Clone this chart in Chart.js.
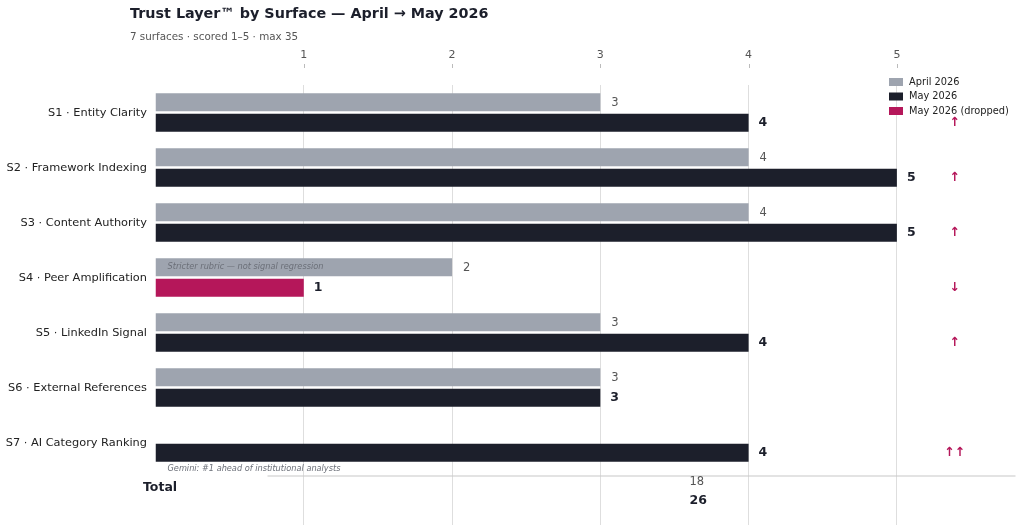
<!DOCTYPE html>
<html>
<head>
<meta charset="utf-8">
<script src="https://cdn.jsdelivr.net/npm/chart.js@4.4.1/dist/chart.umd.min.js"></script>
<style>
  html, body { margin: 0; padding: 0; background: #fff; }
  #wrap { width: 1024px; height: 529px; position: relative; }
</style>
</head>
<body>
<div id="wrap"><canvas id="trustChart"></canvas></div>
<script>
// ---- data ----
const surfaces = [
  "S1 · Entity Clarity",
  "S2 · Framework Indexing",
  "S3 · Content Authority",
  "S4 · Peer Amplification",
  "S5 · LinkedIn Signal",
  "S6 · External References",
  "S7 · AI Category Ranking"
];
const rowLabels = [...surfaces, "Total"];
const aprilScores = [3, 4, 4, 2, 3, 3, null, null];
const mayScores = [4, 5, 5, 1, 4, 3, 4, null];
const droppedRows = [3];
const trendArrows = ["↑", "↑", "↑", "↓", "↑", "", "↑↑"];
const xTicks = [1, 2, 3, 4, 5];
const aprilTotal = 18;
const mayTotal = 26;
const notes = [
  { row: 3, text: "Stricter rubric — not signal regression", inside: true },
  { row: 6, text: "Gemini: #1 ahead of institutional analysts", inside: false }
];

// ---- colours ----
const APRIL = "#9ea4af";
const MAY = "#1c1f2b";
const DROP = "#b5175a";
const FONT = "DejaVu Sans";

Chart.defaults.font.family = FONT;

const mayColors = mayScores.map((v, i) => droppedRows.includes(i) ? DROP : MAY);

// overlay text: title, values, arrows, notes, totals, legend
const overlay = {
  id: "overlay",
  afterDatasetsDraw(chart) {
    const ctx = chart.ctx;
    const x = chart.scales.x;
    const y = chart.scales.y;
    const area = chart.chartArea;
    const aprilMeta = chart.getDatasetMeta(0);
    const mayMeta = chart.getDatasetMeta(1);
    ctx.save();

    // title + subtitle
    ctx.textAlign = "left";
    ctx.textBaseline = "middle";
    ctx.fillStyle = "#1c1f2b";
    ctx.font = "bold 14.35px " + FONT;
    ctx.fillText("Trust Layer™ by Surface — April → May 2026", 130, 14);
    ctx.fillStyle = "#555";
    ctx.font = "10.35px " + FONT;
    ctx.fillText("7 surfaces · scored 1–5 · max 35", 130, 37);

    // little tick marks under the top labels
    ctx.strokeStyle = "#bbb";
    ctx.lineWidth = 1;
    xTicks.forEach(v => {
      const px = Math.round(x.getPixelForValue(v)) + 0.5;
      ctx.beginPath();
      ctx.moveTo(px, 64);
      ctx.lineTo(px, 68);
      ctx.stroke();
    });

    // value labels
    aprilMeta.data.forEach((bar, i) => {
      if (aprilScores[i] == null) return;
      ctx.fillStyle = "#555";
      ctx.font = "11.5px " + FONT;
      ctx.fillText(aprilScores[i], bar.x + 11, bar.y + 0.5);
    });
    mayMeta.data.forEach((bar, i) => {
      if (mayScores[i] == null) return;
      ctx.fillStyle = MAY;
      ctx.font = "bold 12.5px " + FONT;
      ctx.fillText(mayScores[i], bar.x + 10, bar.y + 0.5);
      // trend arrows
      if (trendArrows[i]) {
        ctx.fillStyle = DROP;
        ctx.font = "bold 12.5px " + FONT;
        ctx.textAlign = "center";
        ctx.fillText(trendArrows[i], x.getPixelForValue(5.39), bar.y);
        ctx.textAlign = "left";
      }
    });

    // notes
    ctx.fillStyle = "#6b6f78";
    ctx.font = "italic 8.2px " + FONT;
    notes.forEach(n => {
      if (n.inside) {
        const bar = aprilMeta.data[n.row];
        ctx.fillText(n.text, area.left + 12, bar.y);
      } else {
        const bar = mayMeta.data[n.row];
        ctx.fillText(n.text, area.left + 12, bar.y + bar.height / 2 + 7);
      }
    });

    // total row
    const totalY = y.getPixelForValue(surfaces.length);
    ctx.strokeStyle = "#c8c8c8";
    ctx.lineWidth = 1.2;
    ctx.beginPath();
    ctx.moveTo(area.left + 112, totalY - 21.5);
    ctx.lineTo(area.right, totalY - 21.5);
    ctx.stroke();
    ctx.fillStyle = MAY;
    ctx.font = "bold 12.5px " + FONT;
    ctx.fillText("Total", 143, totalY - 9.5);
    ctx.textAlign = "center";
    ctx.fillStyle = "#555";
    ctx.font = "11.5px " + FONT;
    ctx.fillText(aprilTotal, x.getPixelForValue(3.65), totalY - 15.5);
    ctx.fillStyle = MAY;
    ctx.font = "bold 12.5px " + FONT;
    ctx.fillText(mayTotal, x.getPixelForValue(3.66), totalY + 3.5);

    // legend
    const legendItems = [["April 2026", APRIL], ["May 2026", MAY], ["May 2026 (dropped)", DROP]];
    ctx.textAlign = "left";
    ctx.font = "9.8px " + FONT;
    legendItems.forEach((item, k) => {
      const ly = 82 + k * 14.5;
      ctx.fillStyle = item[1];
      ctx.fillRect(889, ly - 4, 14, 8);
      ctx.fillStyle = "#222";
      ctx.fillText(item[0], 909, ly);
    });

    ctx.restore();
  }
};

new Chart(document.getElementById("trustChart"), {
  type: "bar",
  data: {
    labels: rowLabels,
    datasets: [
      {
        label: "April 2026",
        data: aprilScores,
        backgroundColor: APRIL,
        categoryPercentage: 0.745,
        barPercentage: 0.88
      },
      {
        label: "May 2026",
        data: mayScores,
        backgroundColor: mayColors,
        categoryPercentage: 0.745,
        barPercentage: 0.88
      }
    ]
  },
  options: {
    indexAxis: "y",
    responsive: true,
    maintainAspectRatio: false,
    animation: false,
    layout: { padding: { left: 0, right: 8.5, top: 0, bottom: 4 } },
    plugins: {
      legend: { display: false },
      tooltip: { enabled: false }
    },
    scales: {
      x: {
        position: "top",
        min: 0,
        max: 5.8,
        afterBuildTicks: scale => { scale.ticks = xTicks.map(v => ({ value: v })); },
        afterFit: scale => { scale.height = 85; },
        grid: { color: "#dedede", drawTicks: false },
        border: { display: false },
        ticks: { color: "#555", font: { size: 11 }, padding: 23 }
      },
      y: {
        afterFit: scale => {
          scale.width = 155.5;
          scale.paddingTop = 0;
          scale.paddingBottom = 0;
        },
        grid: { display: false },
        border: { display: false },
        ticks: {
          color: "#222",
          font: { size: 11.35 },
          padding: 0.5,
          labelOffset: 1,
          callback: (v, i) => i < surfaces.length ? rowLabels[i] : ""
        }
      }
    }
  },
  plugins: [overlay]
});
</script>
</body>
</html>
